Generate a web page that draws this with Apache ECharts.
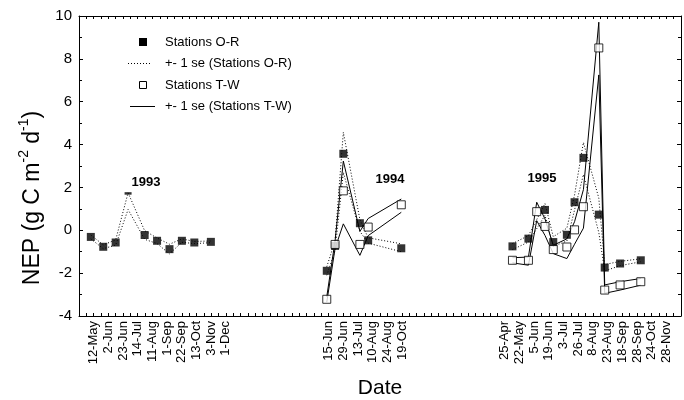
<!DOCTYPE html>
<html><head><meta charset="utf-8">
<script src="https://cdn.jsdelivr.net/npm/echarts@6/dist/echarts.min.js"></script>
<style>html,body{margin:0;padding:0;background:#fff}#c{width:684px;height:400px}</style>
</head><body><div id="c"></div>
<script>
// ---- data ----
const tickLabels = ['12-May','2-Jun','23-Jun','14-Jul','11-Aug','1-Sep','22-Sep','13-Oct','3-Nov','1-Dec',
  '','','','','','',
  '15-Jun','29-Jun','13-Jul','10-Aug','24-Aug','19-Oct',
  '','','','','','',
  '25-Apr','22-May','5-Jun','19-Jun','3-Jul','26-Jul','8-Aug','23-Aug','18-Sep','28-Sep','24-Oct','28-Nov'];

const orDates = ['1993-05-12','1993-06-02','1993-06-23','1993-07-14','1993-08-11','1993-09-01','1993-09-22','1993-10-13','1993-11-03','1993-12-01',
  '1994-06-15','1994-06-29','1994-07-13','1994-08-10','1994-08-24','1994-10-19',
  '1995-04-25','1995-05-22','1995-06-19','1995-07-03','1995-07-26','1995-08-08','1995-08-23','1995-09-18','1995-09-28','1995-10-24','1995-11-28'];
const orMean = [-0.31,-0.77,-0.57,1.72,-0.22,-0.49,-0.88,-0.49,-0.57,-0.54,
  -1.89,-0.73,3.57,0.33,-0.47,-0.84,
  -0.75,-0.39,0.95,-0.55,-0.21,1.31,3.38,0.73,-1.74,-1.55,-1.40];
const orHi = [-0.22,-0.68,-0.45,1.75,-0.02,-0.36,-0.65,-0.40,-0.52,-0.50,
  -1.70,-0.50,4.57,0.50,-0.35,-0.63,
  -0.62,-0.25,1.25,-0.30,0.10,1.65,4.10,1.50,-1.60,-1.45,-1.33];
const orLo = [-0.40,-0.86,-0.69,0.97,-0.42,-0.62,-1.10,-0.56,-0.62,-0.58,
  -2.10,-0.95,2.70,-0.05,-0.60,-1.00,
  -0.90,-0.55,0.70,-0.75,-0.50,0.95,2.60,-0.10,-1.90,-1.65,-1.47];

const twDates = ['1994-06-15','1994-06-29','1994-07-13','1994-08-10','1994-08-24','1994-10-19',
  '1995-04-25','1995-05-22','1995-06-05','1995-06-19','1995-07-03','1995-07-26','1995-08-08','1995-08-23','1995-09-18','1995-09-28','1995-10-24','1995-11-28'];
const twMean = [-3.22,-0.66,1.84,-0.66,0.15,1.19,
  -1.40,-1.40,0.87,0.18,-0.90,-0.78,0.02,1.10,8.51,-2.79,-2.55,-2.40];
const twHi = [-3.10,-0.50,3.23,-0.05,0.55,1.46,
  -1.28,-1.25,1.31,0.53,-0.70,-0.40,0.40,1.90,9.71,-2.55,-2.40,-2.25];
const twLo = [-3.35,-0.85,0.30,-1.17,-0.25,0.84,
  -1.52,-1.63,0.45,-0.24,-1.09,-1.32,-0.65,0.10,7.25,-2.94,-2.79,-2.56];

const yearLabels = ['1993','1994','1995'];
const legendNames = ['Stations O-R','+- 1 se (Stations O-R)','Stations T-W','+- 1 se (Stations T-W)'];

// ---- build ----
function pairs(dates, vals, breakGaps) {
  const out = [];
  for (let i = 0; i < dates.length; i++) {
    if (breakGaps && i > 0) {
      const gap = (new Date(dates[i]) - new Date(dates[i-1])) / 864e5;
      if (gap > 100) out.push([dates[i-1], '-']);
    }
    out.push([dates[i], vals[i]]);
  }
  return out;
}
const orMeanData = pairs(orDates, orMean, false).map((d, i) =>
  i === 3 ? {value: d, symbolSize: [7, 2.5]} : d);

const FONT = 'Liberation Sans, Arial, sans-serif';
const chart = echarts.init(document.getElementById('c'), null, {renderer: 'canvas'});
const dotted = {color: '#000', width: 1, type: [1, 2]};
const solid = {color: '#000', width: 1, type: 'solid'};
const axisCommon = {
  axisLine: {show: true, onZero: false, lineStyle: {color: '#000', width: 1}},
  splitLine: {show: false}
};

chart.setOption({
  animation: false,
  textStyle: {fontFamily: FONT, color: '#000'},
  grid: {left: 79, right: 3, top: 16, bottom: 84, containLabel: false},
  xAxis: [
    {type: 'time', min: '1993-04-22', max: '1996-02-04', show: false},
    Object.assign({type: 'value', min: -1, max: 40, interval: 0.5, position: 'bottom',
      axisTick: {show: true, inside: true, length: 3, lineStyle: {color: '#000'}},
      axisLabel: {show: true, rotate: 90, fontSize: 13, color: '#000', margin: 5, fontFamily: FONT,
        showMinLabel: true, showMaxLabel: true,
        formatter: v => (Number.isInteger(v) && v >= 0 && v < tickLabels.length) ? tickLabels[v] : ''}
    }, axisCommon),
    Object.assign({type: 'value', min: -1, max: 40, interval: 0.5, position: 'top',
      axisTick: {show: true, inside: true, length: 3, lineStyle: {color: '#000'}},
      axisLabel: {show: false}}, axisCommon)
  ],
  yAxis: [
    Object.assign({type: 'value', min: -4, max: 10, interval: 2, position: 'left',
      axisTick: {show: true, inside: true, length: 4, lineStyle: {color: '#000'}},
      minorTick: {show: true, splitNumber: 2, length: 3, lineStyle: {color: '#000'}},
      axisLabel: {fontSize: 15, color: '#000', margin: 7, fontFamily: FONT}}, axisCommon),
    Object.assign({type: 'value', min: -4, max: 10, interval: 2, position: 'right',
      axisTick: {show: true, inside: true, length: 4, lineStyle: {color: '#000'}},
      minorTick: {show: true, splitNumber: 2, length: 3, lineStyle: {color: '#000'}},
      axisLabel: {show: false}}, axisCommon)
  ],
  series: [
    {name: legendNames[3], type: 'line', xAxisIndex: 0, yAxisIndex: 0, data: pairs(twDates, twHi, true),
      symbol: 'none', lineStyle: solid, connectNulls: false, silent: true, z: 2},
    {name: legendNames[3], type: 'line', xAxisIndex: 0, yAxisIndex: 0, data: pairs(twDates, twLo, true),
      symbol: 'none', lineStyle: solid, connectNulls: false, silent: true, z: 2},
    {name: legendNames[1], type: 'line', xAxisIndex: 0, yAxisIndex: 0, data: pairs(orDates, orHi, true),
      symbol: 'none', lineStyle: dotted, connectNulls: false, silent: true, z: 3},
    {name: legendNames[1], type: 'line', xAxisIndex: 0, yAxisIndex: 0, data: pairs(orDates, orLo, true),
      symbol: 'none', lineStyle: dotted, connectNulls: false, silent: true, z: 3},
    {name: legendNames[0], type: 'scatter', xAxisIndex: 0, yAxisIndex: 0, data: orMeanData,
      symbol: 'rect', symbolSize: 8, itemStyle: {color: '#000'}, z: 5},
    {name: legendNames[2], type: 'scatter', xAxisIndex: 0, yAxisIndex: 0, data: pairs(twDates, twMean, false),
      symbol: 'rect', symbolSize: 8, itemStyle: {color: '#fff', borderColor: '#000', borderWidth: 1}, z: 6}
  ],
  graphic: [
    // legend
    {type: 'rect', shape: {x: 139, y: 38, width: 8, height: 8}, style: {fill: '#000'}},
    {type: 'line', shape: {x1: 128, y1: 63.5, x2: 152, y2: 63.5}, style: {stroke: '#000', lineWidth: 1, lineDash: [1, 2]}},
    {type: 'rect', shape: {x: 139.5, y: 81.5, width: 7, height: 7}, style: {fill: '#fff', stroke: '#000', lineWidth: 1}},
    {type: 'line', shape: {x1: 130, y1: 106.5, x2: 155, y2: 106.5}, style: {stroke: '#000', lineWidth: 1}},
    {type: 'text', x: 165, y: 42, style: {text: legendNames[0], font: '13px ' + FONT, fill: '#000', verticalAlign: 'middle'}},
    {type: 'text', x: 165, y: 63, style: {text: legendNames[1], font: '13px ' + FONT, fill: '#000', verticalAlign: 'middle'}},
    {type: 'text', x: 165, y: 85, style: {text: legendNames[2], font: '13px ' + FONT, fill: '#000', verticalAlign: 'middle'}},
    {type: 'text', x: 165, y: 106, style: {text: legendNames[3], font: '13px ' + FONT, fill: '#000', verticalAlign: 'middle'}},
    // year annotations
    {type: 'text', x: 146, y: 182, style: {text: yearLabels[0], font: 'bold 13px ' + FONT, fill: '#000', align: 'center', verticalAlign: 'middle'}},
    {type: 'text', x: 390, y: 179, style: {text: yearLabels[1], font: 'bold 13px ' + FONT, fill: '#000', align: 'center', verticalAlign: 'middle'}},
    {type: 'text', x: 542, y: 178, style: {text: yearLabels[2], font: 'bold 13px ' + FONT, fill: '#000', align: 'center', verticalAlign: 'middle'}},
    // axis titles
    {type: 'text', x: 380, y: 388, style: {text: 'Date', font: '21px ' + FONT, fill: '#000', align: 'center', verticalAlign: 'middle'}},
    {type: 'text', x: 31, y: 198, rotation: Math.PI / 2,
      style: {text: '{a|NEP (g C m}{s|-2}{a| d}{s|-1}{a|)}', align: 'center', verticalAlign: 'middle',
        rich: {a: {fontSize: 23, fontFamily: FONT, lineHeight: 27, verticalAlign: 'bottom'},
               s: {fontSize: 14, fontFamily: FONT, lineHeight: 27, verticalAlign: 'top'}}}}
  ]
});
</script></body></html>
